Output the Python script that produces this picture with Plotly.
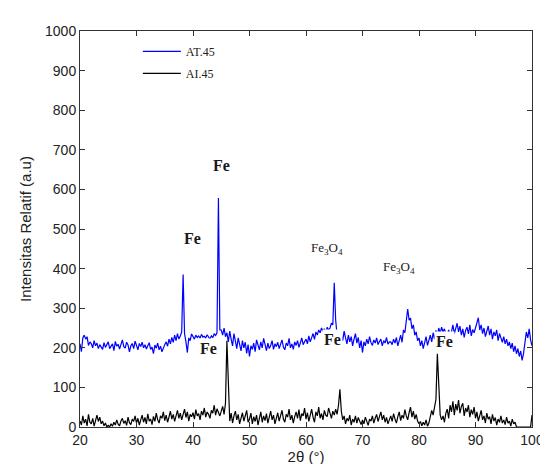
import numpy as np
import plotly.graph_objects as go

# 2-theta grid (degrees), 0.25 deg step from 20 to 100
TWO_THETA = np.linspace(20, 100, 321)

# AT.45 intensities (blue), one row per 5 degrees
AT45 = [
    210, 190, 225, 232, 222, 228, 206, 215, 210, 200, 218, 205, 212, 198, 208, 203, 196, 213, 201, 208,
    215, 198, 205, 210, 193, 216, 204, 209, 197, 212, 220, 203, 199, 214, 207, 190, 205, 211, 198, 217,
    206, 195, 211, 203, 214, 200, 208, 197, 205, 213, 196, 202, 185, 207, 199, 212, 195, 204, 190, 201,
    208, 215, 204, 222, 210, 226, 214, 232, 218, 236, 222, 230, 240, 385, 236, 215, 188, 225, 218, 235,
    228, 222, 232, 226, 230, 224, 234, 227, 229, 225, 233, 228, 222, 230, 226, 235, 231, 238, 578, 245,
    245, 232, 250, 228, 238, 215, 242, 222, 205, 236, 212, 198, 225, 205, 192, 218, 200, 214, 186, 208,
    178, 205, 196, 212, 190, 220, 203, 195, 215, 200, 224, 208, 193, 212, 198, 206, 218, 196, 210, 203,
    214, 198, 208, 220, 202, 195, 212, 205, 224, 200, 210, 196, 215, 206, 218, 201, 212, 225, 208, 216,
    222, 210, 230, 215, 226, 236, 221, 240, 232, 245, 238, 250, 242, 248, 236, 252, 245, 250, 262, 258,
    364, 270, 232, 240, 222, 235, 218, 242, 225, 210, 232, 215, 228, 205, 222, 236, 212, 226, 200, 218,
    188, 215, 205, 222, 210, 228, 213, 206, 220, 212, 225, 208, 216, 222, 205, 218, 212, 226, 209, 215,
    215, 208, 222, 212, 226, 205, 218, 232, 214, 245, 238, 262, 298, 270, 275, 248, 258, 232, 240, 218,
    225, 205, 218, 198, 212, 228, 206, 220, 232, 215, 238, 222, 244, 230, 250, 236, 252, 240, 248, 235,
    232, 245, 228, 240, 258, 236, 250, 262, 240, 255, 232, 248, 226, 244, 252, 235, 258, 230, 246, 238,
    250, 262, 276, 245, 258, 236, 250, 228, 244, 255, 232, 248, 222, 240, 230, 245, 218, 236, 225, 214,
    228, 210, 222, 205, 215, 198, 212, 190, 205, 185, 198, 178, 192, 168, 186, 215, 240, 225, 248, 220,
    205,
]

# AI.45 intensities (black)
AI45 = [
    15, 5, 28, 10, 20, 3, 32, 12, 8, 22, 2, 18, 30, 14, 25, 8, 15, 3, 10, 0,
    4, 0, 8, 2, 12, 5, 18, 7, 3, 15, 22, 9, 16, 4, 25, 11, 6, 20, 14, 28,
    10, 22, 5, 18, 30, 12, 24, 8, 33, 15, 20, 6, 27, 14, 35, 18, 10, 28, 22, 38,
    16, 30, 12, 25, 40, 20, 32, 14, 28, 42, 22, 35, 18, 30, 45, 24, 38, 15, 32, 26,
    36, 20, 44, 28, 34, 18, 40, 30, 48, 25, 38, 32, 22, 42, 35, 55, 30, 46, 38, 28,
    40, 52, 32, 60, 218, 90, 15, 35, 10, 28, 40, 18, 32, 8, 24, 36, 15, 28, 42, 12,
    20, 35, 8, 26, 14, 30, 5, 22, 38, 12, 28, 16, 34, 10, 25, 40, 18, 30, 8, 24,
    36, 15, 28, 42, 20, 12, 32, 25, 45, 18, 30, 10, 26, 38, 22, 44, 16, 34, 28, 48,
    20, 36, 14, 30, 45, 25, 12, 38, 28, 50, 22, 34, 18, 42, 30, 26, 48, 35, 22, 40,
    30, 45, 32, 55, 95, 40, 18, 28, 8, 22, 15, 30, 5, 20, 12, 28, 10, 24, 16, 6,
    18, 8, 25, 12, 4, 20, 15, 28, 10, 22, 32, 14, 26, 38, 18, 30, 12, 24, 8, 20,
    28, 14, 34, 20, 10, 26, 38, 16, 30, 22, 44, 28, 18, 36, 50, 25, 40, 20, 32, 15,
    8, 14, 3, 12, 5, 18, 2, 10, 25, 42, 30, 48, 70, 185, 110, 30, 18, 28, 12, 35,
    45, 22, 55, 38, 65, 30, 58, 42, 68, 35, 52, 60, 28, 48, 38, 55, 25, 44, 32, 50,
    22, 38, 15, 30, 42, 18, 28, 10, 35, 20, 26, 8, 32, 15, 24, 5, 20, 12, 28, 10,
    18, 6, 25, 10, 15, 2, 20, 8, 12, 0, 0, 0, 0, 0, 0, 0, 0, 0, 0, 0,
    30,
]

SERIES_NAMES = ["AT.45", "AI.45"]
X_TICKS = [20, 30, 40, 50, 60, 70, 80, 90, 100]
Y_TICKS = [0, 100, 200, 300, 400, 500, 600, 700, 800, 900, 1000]

# peak labels: (text, x, y, bold, white box)
PEAK_LABELS = [
    ("Fe", 45.1, 660, True, False),
    ("Fe", 39.9, 475, True, False),
    ("Fe", 42.7, 197, True, True),
    ("Fe", 64.7, 222, True, True),
    ("Fe", 84.5, 215, True, True),
    ("Fe<sub>3</sub>O<sub>4</sub>", 63.8, 450, False, False),
    ("Fe<sub>3</sub>O<sub>4</sub>", 76.5, 402, False, False),
]

SANS = "Liberation Sans Narrow, Arial Narrow, Liberation Sans, Arial, sans-serif"
SERIF = "Liberation Serif, Times New Roman, serif"

fig = go.Figure()
fig.add_trace(go.Scatter(x=TWO_THETA, y=AT45, mode="lines", name=SERIES_NAMES[0],
                         line=dict(color="#0000FF", width=1.2), legendgroup="a"))
fig.add_trace(go.Scatter(x=TWO_THETA, y=AI45, mode="lines", name=SERIES_NAMES[1],
                         line=dict(color="#000000", width=1.2), legendgroup="b"))

for text, x, y, bold, box in PEAK_LABELS:
    fig.add_annotation(
        x=x, y=y, xref="x", yref="y", showarrow=False,
        text=f"<b>{text}</b>" if bold else text,
        font=dict(family=SERIF, size=16 if bold else 13, color="#1a1a1a"),
        bgcolor="white" if box else "rgba(0,0,0,0)",
        borderpad=1,
    )

axis_common = dict(
    showline=True, linecolor="#333333", linewidth=1, mirror="ticks",
    ticks="inside", ticklen=5, tickcolor="#333333", showgrid=False, zeroline=False,
    tickfont=dict(family=SANS, size=14, color="#222222"),
)

fig.update_xaxes(range=[20, 100], tickvals=X_TICKS,
                 title=dict(text="2θ (°)", font=dict(family=SANS, size=15, color="#222222"), standoff=2),
                 **axis_common)
fig.update_yaxes(range=[0, 1000], tickvals=Y_TICKS,
                 title=dict(text="Intensitas Relatif (a.u)", font=dict(family=SANS, size=15, color="#222222"), standoff=9),
                 **axis_common)

fig.update_layout(
    width=548, height=464,
    margin=dict(l=72, r=15, t=23, b=41),
    plot_bgcolor="white", paper_bgcolor="white",
    legend=dict(x=0.128, y=0.985, xanchor="left", yanchor="top", itemwidth=38,
                bgcolor="rgba(0,0,0,0)", tracegroupgap=3,
                font=dict(family=SERIF, size=12, color="#222222")),
    showlegend=True,
)

fig.write_html("out.html")
